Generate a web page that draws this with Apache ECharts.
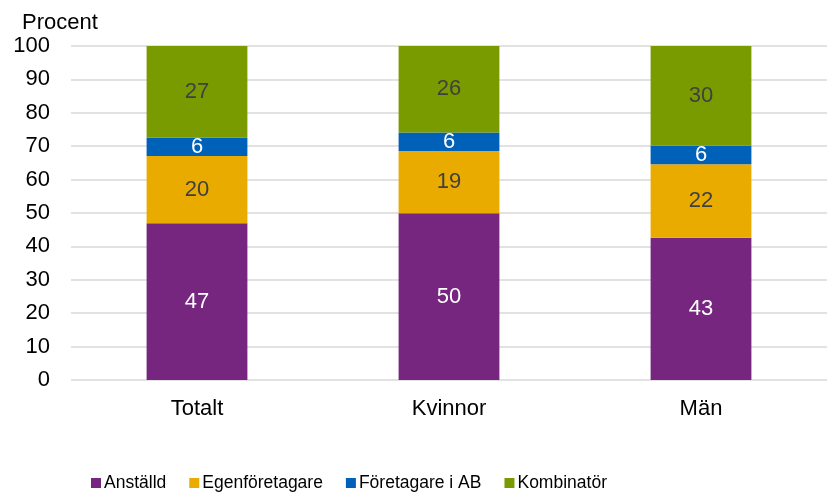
<!DOCTYPE html>
<html>
<head>
<meta charset="utf-8">
<script src="https://cdn.jsdelivr.net/npm/echarts@6/dist/echarts.min.js"></script>
<style>
  html, body { margin: 0; padding: 0; background: #fff; }
  #chart { width: 827px; height: 493px; }
</style>
</head>
<body>
<div id="chart"></div>
<script>
const categories = ['Totalt', 'Kvinnor', 'Män']
const anstalld = [46.9, 49.9, 42.6]
const egen = [20.2, 18.7, 22.0]
const foretagareAB = [5.5, 5.5, 5.5]
const kombinator = [27.4, 25.9, 29.9]
const yTicks = [0, 10, 20, 30, 40, 50, 60, 70, 80, 90, 100]

const font = 'Liberation Sans, Arial, sans-serif'

function seriesItem(name, data, color, labelColor){
  return {
    name: name,
    type: 'bar',
    stack: 'total',
    data: data,
    barWidth: '40%',
    itemStyle: { color: color },
    label: {
      show: true,
      position: 'inside',
      color: labelColor,
      fontFamily: font,
      fontSize: 22,
      formatter: p => Math.round(p.value)
    }
  }
}

const chart = echarts.init(document.getElementById('chart'))
chart.setOption({
  animation: false,
  title: {
    text: 'Procent',
    left: 17,
    top: 7,
    textStyle: { fontFamily: font, fontSize: 22, fontWeight: 'normal', color: '#000' }
  },
  grid: { left: 71, right: -2, top: 46, bottom: 113 },
  legend: {
    left: 86,
    top: 469,
    itemWidth: 10,
    itemHeight: 10,
    itemGap: 23,
    icon: 'rect',
    textStyle: { fontFamily: font, fontSize: 17.5, color: '#000', padding: [0, 0, 0, -2] }
  },
  xAxis: {
    type: 'category',
    data: categories,
    axisLine: { show: false },
    axisTick: { show: false },
    axisLabel: { fontFamily: font, fontSize: 22, color: '#000', margin: 18 }
  },
  yAxis: {
    type: 'value',
    min: yTicks[0],
    max: yTicks[yTicks.length - 1],
    interval: 10,
    axisLine: { show: false },
    axisTick: { show: false },
    axisLabel: { fontFamily: font, fontSize: 22, color: '#000', margin: 21 },
    splitLine: { lineStyle: { color: '#d9d9d9', width: 1.5 } }
  },
  series: [
    seriesItem('Anställd', anstalld, '#76267f', '#fff'),
    seriesItem('Egenföretagare', egen, '#eaab00', '#404040'),
    seriesItem('Företagare i AB', foretagareAB, '#0061b9', '#fff'),
    seriesItem('Kombinatör', kombinator, '#7a9b00', '#404040')
  ]
})
window.addEventListener('resize', () => chart.resize())
</script>
</body>
</html>
